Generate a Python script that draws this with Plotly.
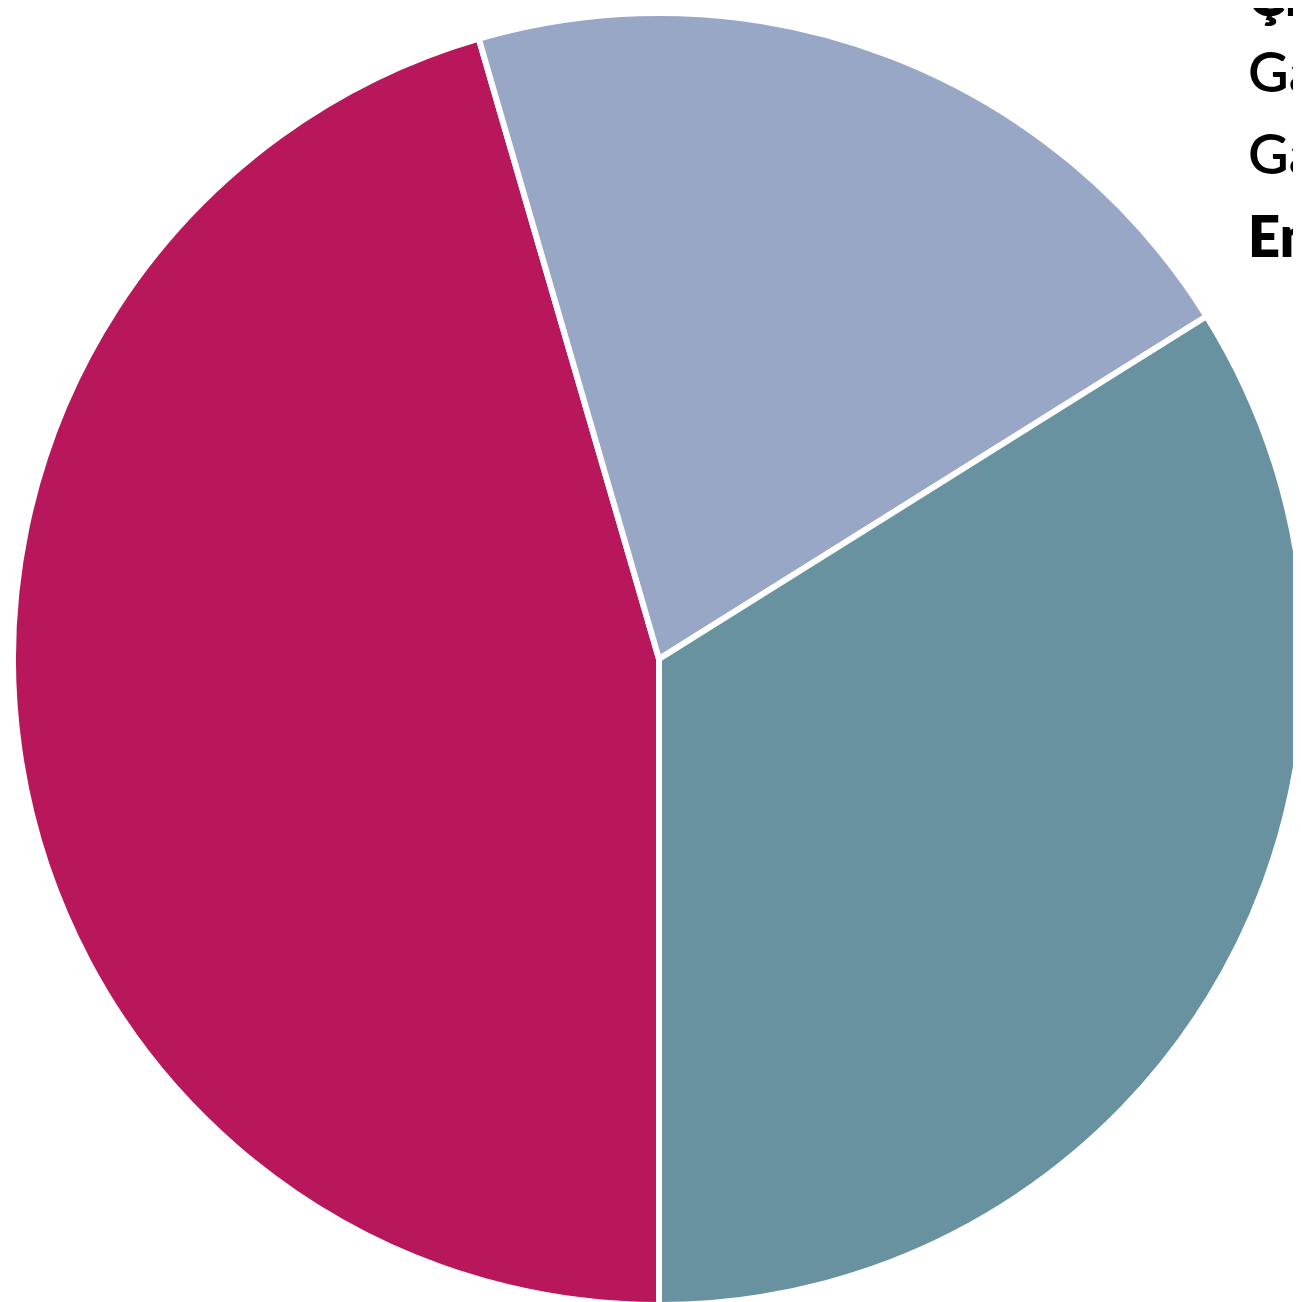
import plotly.graph_objects as go

# Slice data (clockwise starting at 6 o'clock)
labels = ["Gayrimenkul", "Gaz", "Enerji"]
values = [45.5, 20.6, 33.9]
colors = ["#B8175C", "#99A7C7", "#68929F"]

# Legend-like text lines at top right
legend_title = "Çimento"
legend_lines = ["Gayrimenkul", "Gaz", "Enerji"]
legend_weights = [600, 600, 800]

W, H = 1301, 1302

fig = go.Figure()
fig.add_trace(go.Pie(
    labels=labels,
    values=values,
    marker=dict(colors=colors, line=dict(color="white", width=6)),
    sort=False,
    direction="clockwise",
    rotation=180,
    textinfo="none",
    hoverinfo="label+percent",
    showlegend=False,
    domain=dict(x=[5 / W, 1297 / W], y=[5 / H, 1 - 5 / H]),
))

font_family = "Lato, Open Sans, sans-serif"
tx = 1238 / W
line_centers = [62, 145, 227]
fig.add_annotation(
    x=tx, y=1 - (-14) / H, xref="paper", yref="paper",
    xanchor="left", yanchor="middle", showarrow=False,
    text=legend_title,
    font=dict(family=font_family, size=56, color="#000000", weight=800),
)
for txt, cy, w in zip(legend_lines, line_centers, legend_weights):
    fig.add_annotation(
        x=tx, y=1 - cy / H, xref="paper", yref="paper",
        xanchor="left", yanchor="middle", showarrow=False,
        text=txt,
        font=dict(family=font_family, size=56, color="#000000", weight=w),
    )

fig.update_layout(
    width=W, height=H,
    margin=dict(l=0, r=0, t=0, b=0),
    paper_bgcolor="white",
    plot_bgcolor="white",
)

fig.write_html("out.html")
